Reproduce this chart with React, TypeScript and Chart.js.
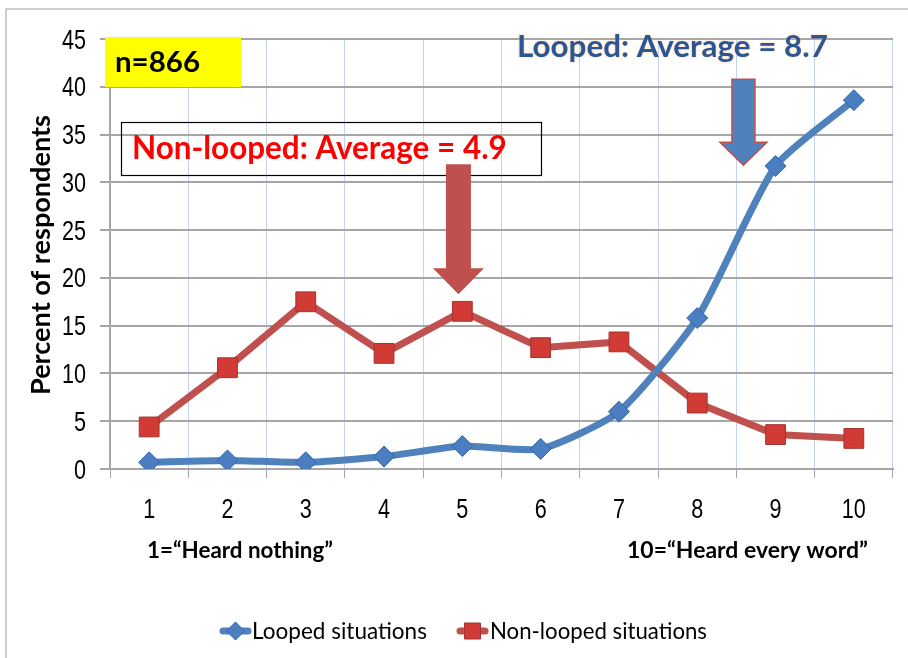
import React, { useEffect, useRef } from 'react';
import { Chart, registerables } from 'chart.js';

Chart.register(...registerables);

const categories = ['1', '2', '3', '4', '5', '6', '7', '8', '9', '10'];
const loopedValues = [0.7, 0.9, 0.7, 1.3, 2.4, 2.1, 6.0, 15.8, 31.7, 38.6];
const nonLoopedValues = [4.4, 10.6, 17.5, 12.1, 16.5, 12.7, 13.3, 6.9, 3.6, 3.2];
const seriesLabels = ['Looped situations', 'Non-looped situations'];
const yMin = 0;
const yMax = 45;
const yStep = 5;
const yAxisTitle = 'Percent of respondents';
const sampleLabel = 'n=866';
const loopedAvgLabel = 'Looped: Average = 8.7';
const nonLoopedAvgLabel = 'Non-looped: Average = 4.9';
const lowEndLabel = '1=\u201CHeard nothing\u201D';
const highEndLabel = '10=\u201CHeard every word\u201D';

const BLUE = '#4F81BD';
const RED = '#C0504D';
const TICK_FONT = "'Liberation Sans', 'DejaVu Sans', sans-serif";
const TEXT_FONT = "Lato, 'Liberation Sans', sans-serif";

function fitText(ctx: CanvasRenderingContext2D, text: string, weight: string, family: string, width: number) {
  ctx.font = `${weight} 100px ${family}`;
  const w = ctx.measureText(text).width;
  const size = (100 * width) / w;
  ctx.font = `${weight} ${size.toFixed(2)}px ${family}`;
  return size;
}

function drawText(ctx: CanvasRenderingContext2D, text: string, x: number, y: number, width: number, weight: string, color: string) {
  fitText(ctx, text, weight, TEXT_FONT, width);
  ctx.fillStyle = color;
  ctx.textAlign = 'left';
  ctx.textBaseline = 'alphabetic';
  ctx.fillText(text, x, y);
}

function drawNarrow(ctx: CanvasRenderingContext2D, text: string, x: number, y: number, align: CanvasTextAlign) {
  ctx.save();
  ctx.translate(x, y);
  ctx.scale(0.8, 1);
  ctx.font = `27px ${TICK_FONT}`;
  ctx.fillStyle = '#000000';
  ctx.textAlign = align;
  ctx.textBaseline = 'alphabetic';
  ctx.fillText(text, 0, 0);
  ctx.restore();
}

function drawDownArrow(ctx: CanvasRenderingContext2D, cx: number, top: number, headTop: number, tip: number, shaftHalf: number, headHalf: number, fill: string, stroke: string | null) {
  ctx.beginPath();
  ctx.moveTo(cx - shaftHalf, top);
  ctx.lineTo(cx + shaftHalf, top);
  ctx.lineTo(cx + shaftHalf, headTop);
  ctx.lineTo(cx + headHalf, headTop);
  ctx.lineTo(cx, tip);
  ctx.lineTo(cx - headHalf, headTop);
  ctx.lineTo(cx - shaftHalf, headTop);
  ctx.closePath();
  ctx.fillStyle = fill;
  ctx.fill();
  if (stroke) {
    ctx.strokeStyle = stroke;
    ctx.lineWidth = 1.5;
    ctx.stroke();
  }
}

const annotationPlugin = {
  id: 'annotations',
  afterDraw(chart: any) {
    const ctx: CanvasRenderingContext2D = chart.ctx;
    const xs = chart.scales.x;
    const ys = chart.scales.y;
    ctx.save();

    // tick labels (condensed look)
    ys.ticks.forEach((t: any, i: number) => {
      drawNarrow(ctx, String(t.value), 86, ys.getPixelForTick(i) + 9.5, 'right');
    });
    xs.ticks.forEach((t: any, i: number) => {
      drawNarrow(ctx, String(chart.data.labels[t.value]), xs.getPixelForTick(i), 518, 'center');
    });

    // outer frame
    ctx.strokeStyle = '#BFBFBF';
    ctx.lineWidth = 1.5;
    ctx.beginPath();
    ctx.moveTo(6, 660);
    ctx.lineTo(6, 9);
    ctx.lineTo(910, 9);
    ctx.stroke();

    // n=866 box
    ctx.fillStyle = '#FFFF00';
    ctx.fillRect(105, 37, 136, 50);
    drawText(ctx, sampleLabel, 115, 72, 85, 'bold', '#000000');

    // non-looped box
    ctx.strokeStyle = '#000000';
    ctx.lineWidth = 1.2;
    ctx.strokeRect(121.5, 122.5, 420, 53);
    drawText(ctx, nonLoopedAvgLabel, 132, 159, 375, 'bold', '#FF0000');

    // looped label
    ctx.save();
    ctx.shadowColor = 'rgba(255,200,150,0.8)';
    ctx.shadowBlur = 3;
    drawText(ctx, loopedAvgLabel, 517, 57, 311, 'bold', '#2A5693');
    ctx.restore();

    // arrows
    const redX = xs.getPixelForValue(3.95);
    drawDownArrow(ctx, redX, ys.getPixelForValue(31.9), ys.getPixelForValue(21.0), ys.getPixelForValue(18.3), 12.5, 25.5, RED, null);
    const blueX = xs.getPixelForValue(7.59);
    drawDownArrow(ctx, blueX, ys.getPixelForValue(40.8), ys.getPixelForValue(34.2), ys.getPixelForValue(31.8), 11.5, 23.5, BLUE, RED);

    // end labels
    drawText(ctx, lowEndLabel, 147, 558, 186, 'bold', '#000000');
    drawText(ctx, highEndLabel, 627, 558, 241, 'bold', '#000000');

    // y title
    ctx.save();
    ctx.translate(50, 255);
    ctx.rotate(-Math.PI / 2);
    fitText(ctx, yAxisTitle, 'bold', TEXT_FONT, 280);
    ctx.fillStyle = '#000000';
    ctx.textAlign = 'center';
    ctx.textBaseline = 'alphabetic';
    ctx.fillText(yAxisTitle, 0, 0);
    ctx.restore();

    // legend
    const legendItems = [
      { x: 220, textX: 252, width: 175, ds: chart.data.datasets[0] },
      { x: 457, textX: 490, width: 217, ds: chart.data.datasets[1] },
    ];
    const ly = 631;
    legendItems.forEach((it) => {
      ctx.strokeStyle = it.ds.borderColor;
      ctx.lineWidth = 7;
      ctx.lineCap = 'round';
      ctx.beginPath();
      ctx.moveTo(it.x + 3, ly);
      ctx.lineTo(it.x + 28, ly);
      ctx.stroke();
      ctx.lineCap = 'butt';
      const cx = it.x + 15.5;
      ctx.fillStyle = it.ds.pointBackgroundColor;
      ctx.strokeStyle = it.ds.pointBorderColor;
      ctx.lineWidth = 1;
      ctx.beginPath();
      if (it.ds.pointStyle === 'rectRot') {
        ctx.moveTo(cx, ly - 9);
        ctx.lineTo(cx + 9, ly);
        ctx.lineTo(cx, ly + 9);
        ctx.lineTo(cx - 9, ly);
        ctx.closePath();
      } else {
        ctx.rect(cx - 8, ly - 8, 16, 16);
      }
      ctx.fill();
      ctx.stroke();
      drawText(ctx, it.ds.label, it.textX, 639, it.width, 'normal', '#000000');
    });

    ctx.restore();
  },
};

export default function App() {
  const canvasRef = useRef<HTMLCanvasElement | null>(null);

  useEffect(() => {
    document.body.style.margin = '0';
    const canvas = canvasRef.current;
    if (!canvas) return;
    const chart = new Chart(canvas, {
      type: 'line',
      data: {
        labels: categories,
        datasets: [
          {
            label: seriesLabels[0],
            data: loopedValues,
            borderColor: BLUE,
            backgroundColor: BLUE,
            borderWidth: 7,
            tension: 0.2,
            pointStyle: 'rectRot',
            pointRadius: 10.5,
            pointBackgroundColor: '#4A7EC0',
            pointBorderColor: '#3567A6',
            pointBorderWidth: 1,
          },
          {
            label: seriesLabels[1],
            data: nonLoopedValues,
            borderColor: RED,
            backgroundColor: RED,
            borderWidth: 7,
            tension: 0,
            pointStyle: 'rect',
            pointRadius: 14,
            pointBackgroundColor: '#D23A35',
            pointBorderColor: '#A33330',
            pointBorderWidth: 1,
          },
        ],
      },
      options: {
        responsive: false,
        animation: false,
        layout: { padding: { left: 0, right: 6, top: 39, bottom: 0 } },
        plugins: {
          legend: { display: false },
          tooltip: { enabled: false },
        },
        scales: {
          x: {
            offset: true,
            grid: {
              offset: true,
              color: '#C3D3EF',
              lineWidth: 1,
              tickColor: '#A6A6A6',
              tickLength: 9,
              drawOnChartArea: true,
            },
            border: { color: '#A6A6A6', width: 2 },
            ticks: {
              display: false,
            },
            afterFit: (scale: any) => {
              scale.height = 189;
            },
          },
          y: {
            min: yMin,
            max: yMax,
            ticks: {
              stepSize: yStep,
              display: false,
            },
            grid: {
              color: '#A6A6A6',
              lineWidth: 2,
              tickColor: '#A6A6A6',
              tickLength: 10,
            },
            border: { color: '#A6A6A6', width: 2 },
            afterFit: (scale: any) => {
              scale.width = 110;
            },
          },
        },
      },
      plugins: [annotationPlugin],
    } as any);
    return () => chart.destroy();
  }, []);

  return <canvas ref={canvasRef} width={908} height={658} style={{ display: 'block', width: 908, height: 658 }} />;
}
